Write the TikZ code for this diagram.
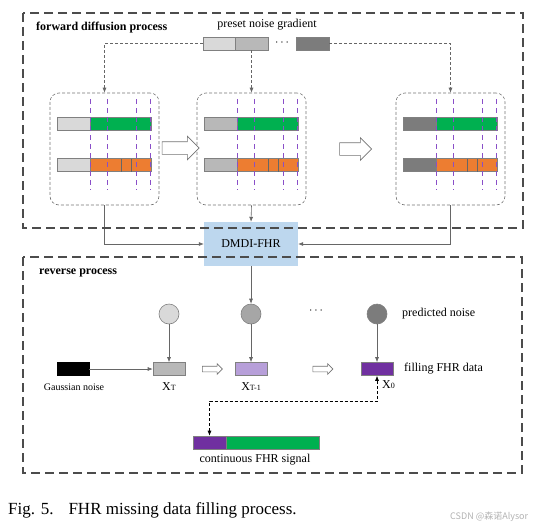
\documentclass[tikz,border=0pt]{standalone}
\usepackage{fontspec}
\setmainfont{Liberation Serif}
\newfontfamily\wmfont{Noto Sans CJK SC}
\usetikzlibrary{positioning,arrows.meta,shapes.arrows,calc}

\definecolor{fhrgreen}{HTML}{00B050}
\definecolor{fhrorange}{HTML}{ED7D31}
\definecolor{noiseA}{HTML}{D9D9D9}
\definecolor{noiseB}{HTML}{B8B8B8}
\definecolor{noiseC}{HTML}{7C7C7C}
\definecolor{cutpurple}{HTML}{8A4FC8}
\definecolor{xlight}{HTML}{B79FD9}
\definecolor{xdark}{HTML}{7030A0}
\definecolor{dmdiblue}{HTML}{BDD7EE}

\newcommand{\xstep}[1]{X{\fontsize{8}{9}\selectfont #1}}

\tikzset{
  >={Latex[length=5pt,width=4pt]},
  cell/.style={draw=black!50, line width=0.6pt, inner sep=0pt, minimum height=13pt},
  stagebox/.style={draw=black!55, dash pattern=on 3pt off 2pt, rounded corners=9pt,
    line width=0.6pt, minimum width=109pt, minimum height=112pt},
  processbox/.style={draw=black!70, dash pattern=on 9pt off 5pt, line width=1.1pt},
  cutline/.style={cutpurple, dash pattern=on 5pt off 4pt, line width=1pt},
  divider/.style={black!60, line width=0.6pt},
  link/.style={black!60, line width=0.6pt, ->},
  noiselink/.style={black!60, line width=0.6pt, dash pattern=on 3pt off 2pt, ->},
  hollow/.style={single arrow, draw=black!55, fill=white, line width=0.6pt, inner xsep=0pt,
    single arrow head indent=0pt},
  noiseball/.style={circle, draw=black!50, line width=0.6pt, inner sep=0pt, minimum size=20pt},
  lbl/.style={font=\fontsize{12}{14}\selectfont, inner sep=0pt},
}

\begin{document}
\begin{tikzpicture}[x=1pt,y=-1pt]
\useasboundingbox (0,0) rectangle (537,527);

% preset noise gradient
\node[lbl] (gradtxt) at (267,25) {preset noise gradient}; %label
\node[cell, fill=noiseA, minimum width=32pt] (gA) at (219,43.5) {};
\node[cell, fill=noiseB, minimum width=33pt] (gB) at (251.5,43.5) {};
\node[lbl] (gdots) at (282,43) {$\cdots$};
\node[cell, fill=noiseC, minimum width=33pt] (gC) at (312.5,43.5) {};

% stage 1
\node[stagebox] (stage1) at (104.5,149) {};
\node[cell, fill=noiseA, minimum width=33pt] (s1a) at (73.5,124) {};
\node[cell, fill=fhrgreen, minimum width=61pt] (s1b) at (120.5,124) {};
\node[cell, fill=noiseA, minimum width=33pt] (s1c) at (73.5,165) {};
\node[cell, fill=fhrorange, minimum width=61pt] (s1d) at (120.5,165) {};
\draw[divider] (121,158.5) -- (121,171.5);
\draw[divider] (131,158.5) -- (131,171.5);
\draw[cutline] (90,99) -- (90,190);
\draw[cutline] (107,99) -- (107,190);
\draw[cutline] (136,99) -- (136,190);
\draw[cutline] (150,99) -- (150,190);

% stage 2
\node[stagebox] (stage2) at (251.5,149) {};
\node[cell, fill=noiseB, minimum width=33pt] (s2a) at (220.5,124) {};
\node[cell, fill=fhrgreen, minimum width=61pt] (s2b) at (267.5,124) {};
\node[cell, fill=noiseB, minimum width=33pt] (s2c) at (220.5,165) {};
\node[cell, fill=fhrorange, minimum width=61pt] (s2d) at (267.5,165) {};
\draw[divider] (268,158.5) -- (268,171.5);
\draw[divider] (278,158.5) -- (278,171.5);
\draw[cutline] (237,99) -- (237,190);
\draw[cutline] (254,99) -- (254,190);
\draw[cutline] (283,99) -- (283,190);
\draw[cutline] (297,99) -- (297,190);

% stage 3
\node[stagebox] (stage3) at (450.5,149) {};
\node[cell, fill=noiseC, minimum width=33pt] (s3a) at (419.5,124) {};
\node[cell, fill=fhrgreen, minimum width=61pt] (s3b) at (466.5,124) {};
\node[cell, fill=noiseC, minimum width=33pt] (s3c) at (419.5,165) {};
\node[cell, fill=fhrorange, minimum width=61pt] (s3d) at (466.5,165) {};
\draw[divider] (467,158.5) -- (467,171.5);
\draw[divider] (477,158.5) -- (477,171.5);
\draw[cutline] (436,99) -- (436,190);
\draw[cutline] (453,99) -- (453,190);
\draw[cutline] (482,99) -- (482,190);
\draw[cutline] (496,99) -- (496,190);

% hollow arrows between stages
\node[hollow, minimum height=37pt, inner ysep=6pt, single arrow head extend=5.5pt] (step12) at (177.5,148) {};
\node[hollow, minimum height=32pt, inner ysep=6pt, single arrow head extend=5pt] (step23) at (352.5,149) {};

\draw[noiselink] (gA.west) -| (stage1.north);
\draw[noiselink] (gB.south) -- (stage2.north);
\draw[noiselink] (gC.east) -| (stage3.north);

% model
\node[fill=dmdiblue, minimum width=94pt, minimum height=44pt, inner sep=0pt,
  font=\fontsize{12}{14}\selectfont] (dmdi) at (251,244) {DMDI-FHR};
\draw[link] (stage1.south) |- (dmdi.west);
\draw[link] (stage2.south) -- (dmdi.north);
\draw[link] (stage3.south) |- (dmdi.east);

% reverse process
\node[noiseball, fill=noiseA] (c1) at (169,314) {};
\node[noiseball, fill=black!35] (c2) at (251,314) {};
\node[lbl] (rdots) at (316,311) {$\cdots$};
\node[noiseball, fill=noiseC] (c3) at (377,314) {};
\node[lbl, anchor=west] (predtxt) at (402,314) {predicted noise}; %label

\node[cell, fill=black, draw=black, minimum width=32pt] (gauss) at (73,369) {};
\node[cell, fill=noiseB, minimum width=32pt] (xT) at (169,369) {};
\node[cell, fill=xlight, minimum width=32pt] (xT1) at (251,369) {};
\node[cell, fill=xdark, minimum width=32pt] (x0) at (377,369) {};
\node[hollow, minimum height=20pt, inner ysep=2.5pt, single arrow head extend=2.5pt] (rev1) at (211,369) {};
\node[hollow, minimum height=20pt, inner ysep=2.5pt, single arrow head extend=2.5pt] (rev2) at (321.5,369) {};

\node[font=\fontsize{10}{12}\selectfont, inner sep=0pt] (gausstxt) at (74,387) {Gaussian noise}; %label
\node[lbl] (xTtxt) at (169,387) {\xstep{T}}; %label
\node[lbl] (xT1txt) at (251,387) {\xstep{T-1}}; %label
\node[lbl, anchor=west] (x0txt) at (382,385) {\xstep{0}}; %label
\node[lbl, anchor=west] (filltxt) at (404,369) {filling FHR data}; %label

\draw[link] (dmdi.south) -- (c2.north);
\draw[link] (c1.south) -- (xT.north);
\draw[link] (c2.south) -- (xT1.north);
\draw[link] (c3.south) -- (x0.north);
\draw[link] (gauss.east) -- (xT.west);

% continuous signal
\node[cell, fill=xdark, minimum width=33pt] (sigP) at (209.5,442.5) {};
\node[cell, fill=fhrgreen, minimum width=93pt] (sigG) at (272.5,442.5) {};
\node[lbl] (sigtxt) at (255,460) {continuous FHR signal}; %label
\coordinate (turn) at (377,401);
\draw[black, line width=0.6pt, dash pattern=on 3pt off 2pt, <->] (sigP.north) |- (turn) -- (x0.south);

% process frames
\draw[processbox] (23,13) rectangle (523,228);
\draw[processbox] (23,257) rectangle (522,473);
\node[lbl, anchor=west, font=\fontsize{12}{14}\selectfont\bfseries] (fwdtxt) at (36,28) {forward diffusion process}; %label
\node[lbl, anchor=west, font=\fontsize{12}{14}\selectfont\bfseries] (revtxt) at (39,273) {reverse process}; %label

% caption
\node[anchor=base west, inner sep=0pt, font=\fontsize{17}{20}\selectfont] (caption) at (8,514)
  {Fig. 5.\hspace{15pt}FHR missing data filling process.};
\node[anchor=west, inner sep=0pt, text=black!30, font=\wmfont\fontsize{9}{10}\selectfont] (wm) at (450,517)
  {CSDN @森诺Alysor};
\end{tikzpicture}
\end{document}
